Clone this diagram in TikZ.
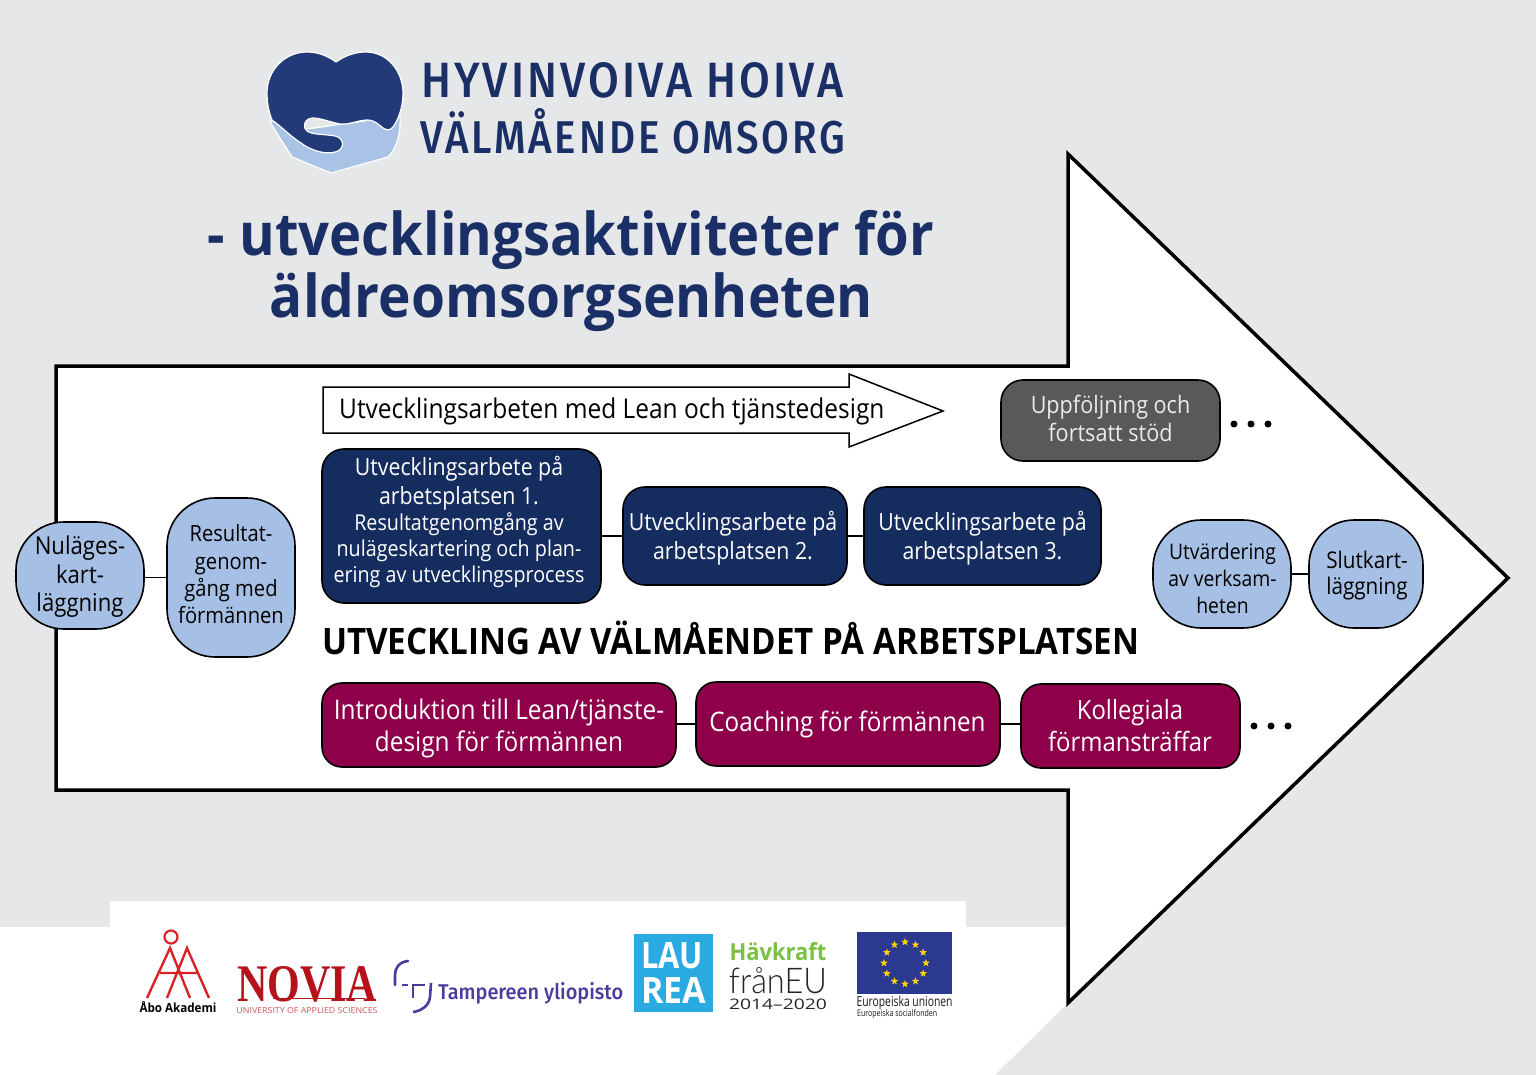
\documentclass[tikz,border=0pt]{standalone}
\usepackage{fontspec}
\usepackage{graphicx}
\setmainfont{Open Sans}[FakeStretch=0.9]
\newfontfamily\logof{Fira Sans Medium}[LetterSpace=7]
\newfontfamily\tampf{Fira Sans Medium}
\newfontfamily\serifx{Liberation Serif}
\newfontfamily\lightf{Lato Light}
\newfontfamily\plainf{Open Sans}
\newcommand{\fs}[2]{\fontsize{#1}{#2}\selectfont}
\newcommand{\fitbox}[3]{\resizebox{#1pt}{#2pt}{#3}}
\newcommand{\fitw}[2]{\resizebox{#1pt}{\height}{#2}}
\definecolor{bggray}{HTML}{E6E7E8}
\definecolor{navy}{HTML}{152C5F}
\definecolor{titlec}{HTML}{1A2F66}
\definecolor{paleblue}{HTML}{A6BFE4}
\definecolor{crimson}{HTML}{8E0049}
\definecolor{darkgray}{HTML}{58595B}
\definecolor{heartd}{HTML}{233A78}
\definecolor{heartl}{HTML}{A9C3E6}
\definecolor{aared}{HTML}{DA2128}
\definecolor{novred}{HTML}{B5121B}
\definecolor{tampc}{HTML}{4E3A9E}
\definecolor{laurea}{HTML}{29ABE2}
\definecolor{havk}{HTML}{7AC143}
\definecolor{euflag}{HTML}{2B3990}
\definecolor{eustar}{HTML}{FFD200}
\usetikzlibrary{shapes.geometric}
\tikzset{
  box/.style={draw=black,line width=1.6pt,rectangle,inner sep=0pt},
  navybox/.style={box,fill=navy,rounded corners=22pt},
  pill/.style={box,fill=paleblue,rounded corners=48pt},
  redbox/.style={box,fill=crimson,rounded corners=20pt},
  graybox/.style={box,fill=darkgray,rounded corners=22pt},
  link/.style={draw=black,line width=1.6pt},
  dot/.style={circle,fill=black,inner sep=0pt,minimum size=7pt},
  plain/.style={inner sep=0pt,align=center},
  wtext/.style={plain,text=white},
  eustarn/.style={star,star points=5,star point ratio=2.4,fill=eustar,inner sep=0pt,minimum size=8pt},
}
\begin{document}
\begin{tikzpicture}[x=1pt,y=-1pt]
\useasboundingbox (0,0) rectangle (1536,1075);
\fill[bggray] (0,0) rectangle (1536,1075);
% footer white
\fill[white] (0,927) rectangle (1068,1075);
\fill[white] (110,901) rectangle (966,927);
\fill[bggray] (1068,1003) -- (995,1075) -- (1100,1075) -- cycle;
% big arrow
\draw[fill=white,line width=3.5pt,line join=miter] (56,366) -- (1068,366) -- (1068,154) -- (1508,578) -- (1068,1003) -- (1068,790) -- (56,790) -- cycle;
% logo
\fill[heartl,draw=white,line width=1.2pt] (270,122) .. controls (276,118) and (285,125) .. (300,130) -- (400,116) .. controls (401,130) and (398,147) .. (388,157) -- (331,173) -- (292,157) -- cycle;
\fill[heartd,draw=white,line width=1.2pt] (336,62) .. controls (346,55) and (356,52) .. (366,52) .. controls (388,52) and (403,72) .. (403,93) .. controls (403,108) and (398,120) .. (393,127) .. controls (390,131) and (386,130) .. (383,128) .. controls (378,124) and (374,120) .. (368,120) .. controls (358,120) and (350,125) .. (340,124) .. controls (330,122) and (320,118) .. (313,118) .. controls (304,118) and (302,128) .. (307,131) .. controls (312,135) and (325,134) .. (335,136) .. controls (345,138) and (345,150) .. (335,152) .. controls (325,155) and (310,150) .. (301,143) .. controls (290,136) and (283,128) .. (272,120) .. controls (268,110) and (267,100) .. (267,93) .. controls (267,70) and (285,52) .. (307,52) .. controls (318,52) and (328,56) .. (336,62) -- cycle;
\node[plain,text=titlec,anchor=north west] (logoa) at (421,62) {\logof\fitbox{422}{35}{HYVINVOIVA HOIVA}};
\node[plain,text=titlec,anchor=north west] (logob) at (420,108) {\logof\fitbox{425}{45}{VÄLMÅENDE OMSORG}};
% title
\node[plain,text=titlec,font=\plainf\bfseries\fs{59}{62},anchor=base] (t1) at (571,255) {\fitw{726}{- utvecklingsaktiviteter för}};
\node[plain,text=titlec,font=\plainf\bfseries\fs{59}{62},anchor=base] (t2) at (571.5,317) {\fitw{603}{äldreomsorgsenheten}};
% inner arrow
\draw[fill=white,draw=black,line width=1.5pt] (323,387) -- (849,387) -- (849,374) -- (943,411) -- (849,447) -- (849,433) -- (323,433) -- cycle;
\node[plain,font=\fs{27.2}{30},anchor=west] (lean) at (339,411) {Utvecklingsarbeten med Lean och tjänstedesign};
% gray
\node[graybox,minimum width=219pt,minimum height=81pt] (follow) at (1110.5,420.5) {};
\node[wtext,text=white!92!black,font=\fs{24}{28}] (followt) at (1110.5,418.5) {Uppföljning och\\fortsatt stöd};
\node[dot] (d1) at (1234,424) {}; \node[dot] (d2) at (1251,424) {}; \node[dot] (d3) at (1268,424) {};
% navy
\node[navybox,minimum width=279pt,minimum height=154pt] (w1) at (461.5,526) {};
\node[wtext,font=\fs{21.9}{26}] (w1t) at (459,522) {{\fs{23.7}{29}Utvecklingsarbete på}\\[3pt]{\fs{23.7}{29}arbetsplatsen 1.}\\Resultatgenomgång av\\nulägeskartering och plan-\\ering av utvecklingsprocess};
\node[navybox,minimum width=224pt,minimum height=98pt] (w2) at (735,536) {};
\node[wtext,font=\fs{23.7}{29}] (w2t) at (733,538.5) {Utvecklingsarbete på\\arbetsplatsen 2.};
\node[navybox,minimum width=237pt,minimum height=98pt] (w3) at (982.5,536) {};
\node[wtext,font=\fs{23.7}{29}] (w3t) at (982.5,538.5) {Utvecklingsarbete på\\arbetsplatsen 3.};
\draw[link] (w1.east |- w2.west) -- (w2.west);
\draw[link] (w2.east) -- (w3.west);
% pills
\node[pill,minimum width=128pt,minimum height=107pt] (nul) at (80,575.5) {};
\node[plain,font=\fs{24.6}{28.5}] (nult) at (80,577) {Nuläges-\\kart-\\läggning};
\node[pill,minimum width=128pt,minimum height=159pt] (res) at (231,577.5) {};
\node[plain,font=\fs{22.4}{27.3}] (rest) at (231,574.5) {Resultat-\\genom-\\gång med\\förmännen};
\draw[link] (nul.east |- res.west) -- (res.west);
\node[pill,minimum width=138pt,minimum height=108pt] (utv) at (1222,574) {};
\node[plain,font=\fs{21.5}{27}] (utvt) at (1222.5,578) {Utvärdering\\av verksam-\\heten};
\node[pill,rounded corners=45pt,minimum width=114pt,minimum height=108pt] (slut) at (1366,574) {};
\node[plain,font=\fs{23}{26.5}] (slutt) at (1367,575.5) {Slutkart-\\läggning};
\draw[link] (utv.east) -- (slut.west);
% heading
\node[plain,font=\bfseries\fs{36.5}{38},anchor=west] (head) at (322,638) {\fitw{817}{UTVECKLING AV VÄLMÅENDET PÅ ARBETSPLATSEN}};
% crimson
\node[redbox,minimum width=354pt,minimum height=84pt] (r1) at (499,725) {};
\node[wtext,font=\fs{27.1}{32}] (r1t) at (499,728) {Introduktion till Lean/tjänste-\\design för förmännen};
\node[redbox,minimum width=304pt,minimum height=84pt] (r2) at (848,724) {};
\node[wtext,font=\fs{26.9}{32}] (r2t) at (847.5,724) {Coaching för förmännen};
\node[redbox,minimum width=219pt,minimum height=84pt] (r3) at (1130.5,726) {};
\node[wtext,font=\fs{26.5}{32}] (r3t) at (1130,726) {Kollegiala\\förmansträffar};
\draw[link] (r1.east |- r2.west) -- (r2.west);
\draw[link] (r2.east) -- (r3.west |- r2.east);
\node[dot] (d4) at (1254,726) {}; \node[dot] (d5) at (1271,726) {}; \node[dot] (d6) at (1288,726) {};
% Abo
\draw[aared,line width=2.2pt] (171,937) circle (6.5pt);
\draw[aared,line width=2.4pt] (147,998) -- (170,948) -- (190,998) (167,998) -- (187,948) -- (209,998) (160,973) -- (198,973);
\node[plain,font=\plainf\bfseries\fs{12.5}{14}] (abo) at (178,1007) {\fitw{77}{Åbo Akademi}};
% Novia
\node[plain,text=novred,anchor=north west] (nov) at (237,966) {\serifx\bfseries\fitbox{140}{35}{NOVIA}};
\draw[novred,line width=1pt] (273,998) -- (365,998);
\node[plain,text=novred!70] (nov2) at (307,1011) {\fitbox{141}{6}{UNIVERSITY OF APPLIED SCIENCES}};
% Tampere
\draw[tampc,line width=2.6pt,line cap=round] (408,961) .. controls (399,962) and (395,968) .. (395,975) -- (395,985);
\draw[tampc,line width=2.6pt] (402,985) -- (408,985);
\draw[tampc,line width=2.6pt] (413,998) -- (413,985) -- (425,985);
\draw[tampc,line width=2.6pt] (431,983) -- (430,997) .. controls (429,1006) and (421,1011) .. (413,1012);
\node[plain,text=tampc,anchor=west] (tamp) at (438,993) {\tampf\fitbox{185}{17}{Tampereen yliopisto}};
% Laurea
\fill[laurea] (634,934) rectangle (713,1012);
\node[plain,text=white,font=\plainf\bfseries] (la1) at (672,956) {\fitbox{62}{26}{LAU}};
\node[plain,text=white,font=\plainf\bfseries] (la2) at (673.5,990) {\fitbox{65}{26}{REA}};
% Havkraft
\node[plain,text=havk,font=\plainf\bfseries] (hv) at (778,952) {\fitbox{97}{18}{Hävkraft}};
\node[plain,text=black!85] (fr) at (778,980.5) {\lightf\fitbox{98}{26}{frånEU}};
\node[plain,text=black!85] (yr) at (778,1004.5) {\plainf\fitbox{98}{10.5}{2014–2020}};
% EU
\fill[euflag] (857,932) rectangle (952,994);
\foreach \i in {0,...,11} {
  \node[eustarn] (s\i) at ({905+21*cos(30*\i)},{963+21*sin(30*\i)}) {};
}
\node[plain,text=black!90] (eu1) at (904.5,1002.5) {\plainf\fitbox{96}{10.5}{Europeiska unionen}};
\node[plain,text=black!90,anchor=west] (eu2) at (857,1014) {\plainf\fitbox{80}{7}{Europeiska socialfonden}};
\end{tikzpicture}
\end{document}
